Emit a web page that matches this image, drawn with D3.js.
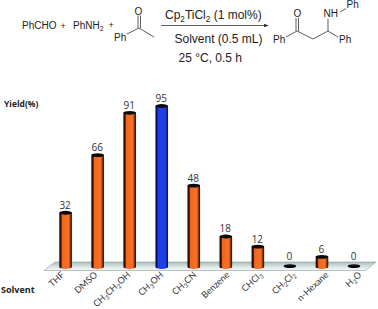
<!DOCTYPE html>
<html>
<head>
<meta charset="utf-8">
<style>
   html, body { margin: 0; padding: 0; background: #fff; }
   svg { display: block; }
   .scheme { font-family: "Liberation Sans", Arial, sans-serif; fill: #222; }
   .chart { font-family: "Open Sans", Lato, sans-serif; fill: #333; }
   .solvent { font-family: Lato, "Open Sans", sans-serif; }
</style>
<script src="https://cdnjs.cloudflare.com/ajax/libs/d3/7.8.5/d3.min.js"></script>
</head>
<body>
<div id="plot"></div>
<script>
/*global d3*/
// values
var solvents = [["THF"], ["DMSO"], ["CH", "3", "CH", "2", "OH"], ["CH", "3", "OH"], ["CH", "3", "CN"],
      ["Benzene"], ["CHCl", "3"], ["CH", "2", "Cl", "2"], ["n-Hexane"], ["H", "2", "O"]],
   yields = [32, 66, 91, 95, 48, 18, 12, 0, 6, 0],
   bestIndex = 3,
   orange = "#f26522",
   blue = "#1f3fe8";

var svg = d3.select("#plot").append("svg").attr("width", 378).attr("height", 309),
   defs = svg.append("defs"),
   xScale = d3.scalePoint().domain(d3.range(solvents.length)).range([65.6, 354]),
   labelScale = d3.scalePoint().domain(d3.range(solvents.length)).range([65, 362]),
   yScale = d3.scaleLinear().domain([0, 95]).range([267, 106]),
   barRx = 6.3,
   barRy = 1.9;

function addGradient(id, stops) {
   var g = defs.append("linearGradient").attr("id", id);
   stops.forEach(function (s) {
      g.append("stop").attr("offset", s[0]).attr("stop-color", s[1]);
   });
}
addGradient("barOrange", [[0, "#120703"], [0.14, "#3a1707"], [0.24, orange], [0.74, "#f7712a"], [0.88, "#8a3512"], [1, "#120703"]]);
addGradient("barBlue", [[0, "#06082e"], [0.12, "#0d1870"], [0.24, blue], [0.75, blue], [0.9, "#142aa0"], [1, "#06082e"]]);
var shadeGrad = defs.append("linearGradient").attr("id", "floorShade")
   .attr("x1", 0).attr("x2", 0).attr("y1", 0).attr("y2", 1);
shadeGrad.append("stop").attr("offset", 0).attr("stop-color", "#a9bcbc");
shadeGrad.append("stop").attr("offset", 0.6).attr("stop-color", "#dfe8e8");
shadeGrad.append("stop").attr("offset", 1).attr("stop-color", "#f4f7f7");

// reaction scheme
var scheme = svg.append("g").attr("class", "scheme"),
   bonds = [
      [[127, 34], [139, 28]], [[139, 28], [154, 37]], [[138, 28], [138, 15.5]], [[140.5, 28], [140.5, 15.5]],
      [[286, 37], [297, 31]], [[297, 31], [313, 39]], [[313, 39], [328, 31]],
      [[296, 31], [296, 18]], [[298.5, 31], [298.5, 18]],
      [[328, 31], [328, 19]], [[328, 31], [338, 37]], [[340, 12], [346, 8.5]]
   ],
   line = d3.line();

scheme.selectAll("path.bond").data(bonds).enter().append("path")
   .attr("class", "bond")
   .attr("d", line)
   .attr("fill", "none")
   .attr("stroke", "#333")
   .attr("stroke-width", 0.8);

scheme.append("path").attr("d", line([[161, 25.5], [266, 25.5]])).attr("stroke", "#333").attr("stroke-width", 0.8);
scheme.append("path").attr("d", line([[264, 23.7], [269, 25.5], [264, 27.3]])).attr("fill", "#333");

function richText(parent, parts, x, y, size, opts) {
   // parts alternate normal and subscript text
   var t = parent.append("text").attr("x", x).attr("y", y).attr("font-size", size);
   parts.forEach(function (p, i) {
      var sub = i % 2 === 1;
      t.append("tspan")
         .attr("dy", sub ? size * 0.22 : (i > 0 ? -size * 0.22 : 0))
         .attr("font-size", sub ? size * 0.68 : size)
         .text(p);
   });
   if (opts && opts.anchor) {
      t.attr("text-anchor", opts.anchor);
   }
   return t;
}

[
   [["PhCHO"], 22, 29, 10],
   [["+"], 60.5, 29, 9],
   [["PhNH", "2"], 73, 29, 10],
   [["+"], 108.5, 28, 9],
   [["O"], 134.5, 15, 10],
   [["Ph"], 114, 41, 10],
   [["Ph"], 273, 43, 10],
   [["O"], 293.5, 17, 10],
   [["NH"], 323.5, 17, 10],
   [["Ph"], 346.5, 8, 10],
   [["Ph"], 339, 43, 10],
   [["Cp", "2", "TiCl", "2", " (1 mol%)"], 165, 19, 12],
   [["Solvent (0.5 mL)"], 174.5, 43, 12],
   [["25 \u00b0C, 0.5 h"], 178.5, 61.5, 12]
].forEach(function (d) {
   richText(scheme, d[0], d[1], d[2], d[3]);
});

// chart floor
var chart = svg.append("g").attr("class", "chart");
chart.append("path")
   .attr("d", line([[55, 262], [376, 262], [365.5, 270.5], [44, 270.5]]) + "Z")
   .attr("fill", "url(#floorShade)")
   .attr("stroke", "#9aa8a8")
   .attr("stroke-width", 0.7);

// bars
var points = yields.map(function (v, i) { return { index: i, value: v }; }),
   bars = chart.selectAll("g.bar").data(points).enter().append("g").attr("class", "bar");

bars.filter(function (d) { return d.value > 0; }).append("path")
   .attr("d", function (d) {
      var x = xScale(d.index),
         top = yScale(d.value),
         base = yScale(0);
      return "M" + (x - barRx) + "," + top +
         "L" + (x - barRx) + "," + base +
         "A" + barRx + "," + barRy + " 0 0 0 " + (x + barRx) + "," + base +
         "L" + (x + barRx) + "," + top + "Z";
   })
   .attr("fill", function (d) {
      return d.index === bestIndex ? "url(#barBlue)" : "url(#barOrange)";
   });

bars.append("ellipse")
   .attr("cx", function (d) { return xScale(d.index); })
   .attr("cy", function (d) { return d.value > 0 ? yScale(d.value) : yScale(0) - 0.8; })
   .attr("rx", barRx)
   .attr("ry", barRy)
   .attr("fill", "#0a0a0a");

// value labels
chart.selectAll("text.value").data(points).enter().append("text")
   .attr("class", "value")
   .attr("x", function (d) { return xScale(d.index) - 0.5; })
   .attr("y", function (d) { return yScale(d.value) - (d.value > 0 ? 4 : 7); })
   .attr("text-anchor", "middle")
   .attr("font-size", 10)
   .text(function (d) { return d.value; });

// solvent labels
solvents.forEach(function (parts, i) {
   var t = richText(chart, parts, 0, 0, 9, { anchor: "end" });
   t.attr("class", "solvent")
      .attr("transform", "translate(" + labelScale(i) + ",275.5) rotate(-43)");
});

// axis titles
chart.append("text").attr("x", 4).attr("y", 107).attr("font-size", 8.5).attr("font-weight", 700).attr("fill", "#222").text("Yield(%)");
chart.append("text").attr("x", 1).attr("y", 292.5).attr("font-size", 9).attr("font-weight", 700).attr("fill", "#222").text("Solvent");
</script>
</body>
</html>
